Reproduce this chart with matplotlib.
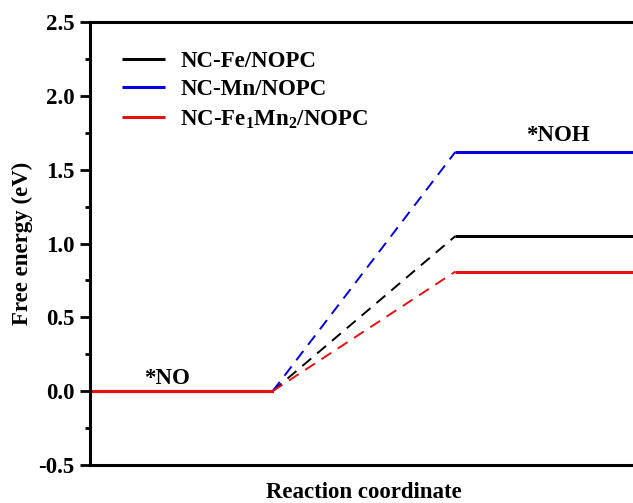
import matplotlib.pyplot as plt

plt.rcParams['font.family'] = 'Liberation Serif'
plt.rcParams['font.weight'] = 'bold'
plt.rcParams['mathtext.fontset'] = 'custom'
plt.rcParams['mathtext.rm'] = 'Liberation Serif:bold'
plt.rcParams['mathtext.bf'] = 'Liberation Serif:bold'
plt.rcParams['axes.unicode_minus'] = False

steps = ['*NO', '*NOH']
labels = ['NC-Fe/NOPC', 'NC-Mn/NOPC', r'NC-Fe$_\mathbf{1}$Mn$_\mathbf{2}$/NOPC']
energies = [[0.0, 1.05], [0.0, 1.62], [0.0, 0.81]]
colors = ['black', '#0000e0', '#e81010']
fs = 16.5

fig = plt.figure(figsize=(6.33, 5.03), dpi=100)
ax = fig.add_axes([90 / 633, 38 / 503, 548 / 633, 443 / 503])

for e, lab, c in zip(energies, labels, colors):
    for i, v in enumerate(e):
        ax.plot([2 * i, 2 * i + 1], [v, v], color=c, lw=2.2,
                label=lab if i == 0 else None, solid_capstyle='butt')
        if i > 0:
            ax.plot([2 * i - 1, 2 * i], [e[i - 1], v], color=c, lw=1.4,
                    ls=(0, (6, 4)))

ax.text(0.42, 0.015, steps[0], ha='center', va='bottom', fontsize=fs, fontweight='bold')
ax.text(2.56, 1.66, steps[1], ha='center', va='bottom', fontsize=fs, fontweight='bold')

ax.set_xlim(0, 3)
ax.set_ylim(-0.5, 2.5)
ax.set_xticks([])
ax.set_yticks([-0.5, 0.0, 0.5, 1.0, 1.5, 2.0, 2.5])
ax.set_yticks([-0.25, 0.25, 0.75, 1.25, 1.75, 2.25], minor=True)
ax.tick_params(axis='y', which='major', direction='out', length=7, width=2, labelsize=fs, pad=4)
ax.tick_params(axis='y', which='minor', direction='out', length=3.5, width=2)
for lab in ax.get_yticklabels():
    lab.set_fontweight('bold')
for s in ax.spines.values():
    s.set_linewidth(2.2)
ax.spines['right'].set_visible(False)

ax.set_xlabel('Reaction coordinate', fontsize=fs, fontweight='bold', labelpad=12)
ax.set_ylabel('Free energy (eV)', fontsize=fs, fontweight='bold', labelpad=4)

leg = ax.legend(loc='upper left', frameon=False, fontsize=fs, handlelength=1.9,
                handletextpad=0.65, labelspacing=0.33, borderaxespad=0, borderpad=0,
                bbox_to_anchor=(0.058, 0.935))
for t in leg.get_texts():
    t.set_fontweight('bold')

fig.savefig('out.png', dpi=100)
